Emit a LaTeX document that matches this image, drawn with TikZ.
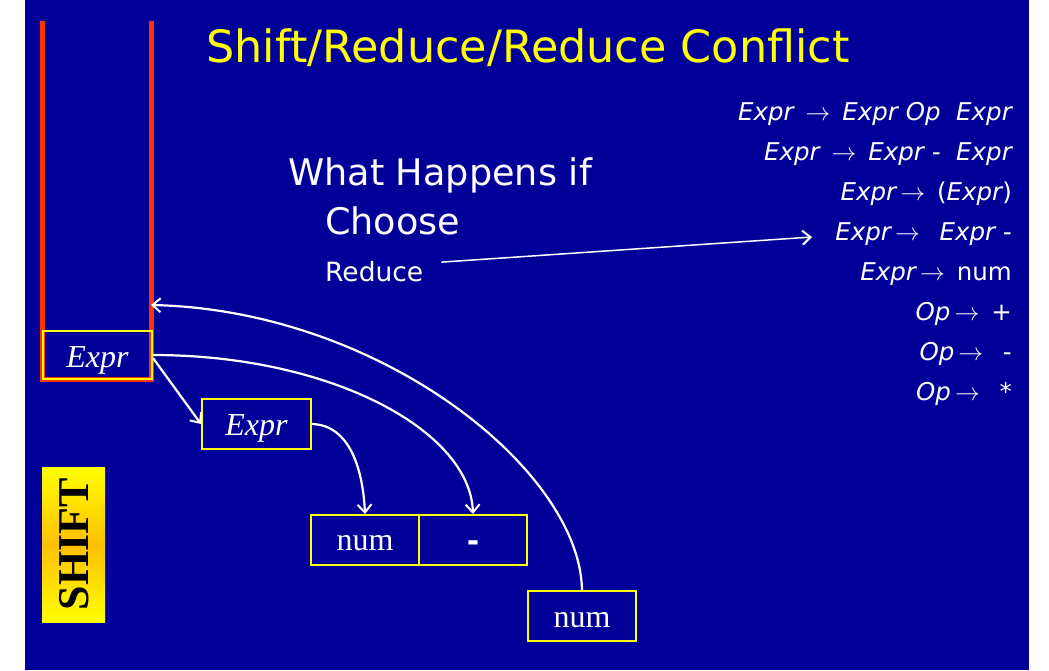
\documentclass[tikz,border=0pt]{standalone}
\usepackage{fontspec}
\setmainfont{DejaVu Sans}
\newfontfamily\timesfont{Liberation Serif}
\usetikzlibrary{arrows.meta}
\definecolor{slideblue}{RGB}{0,0,153}
\definecolor{stackred}{RGB}{255,51,0}
\definecolor{titleyellow}{RGB}{255,255,0}
\definecolor{shiftorange}{RGB}{255,192,0}
\newcommand{\ar}{\,$\rightarrow$\,}
% place a label with its baseline the given distance below the cell centre
\newcommand{\drop}[2]{\raisebox{-#1}[0pt][0pt]{#2}}
\begin{document}
\begin{tikzpicture}[x=1pt,y=-1pt,
  cell/.style={draw=titleyellow,line width=2pt,minimum width=108pt,minimum height=50pt,
    inner sep=0pt,text=white,font=\timesfont\fontsize{32}{32}\selectfont},
  rule/.style={anchor=base east,text=white,inner sep=0pt,font=\fontsize{24.5}{24.5}\selectfont},
  link/.style={draw=white,line width=2.2pt,-{Straight Barb[length=8pt,width=14pt,line width=2pt]}},
  stackwall/.style={draw=stackred,line width=5pt}]
\useasboundingbox (0,0) rectangle (1049,670);
\fill[white] (0,0) rectangle (1049,670);
\fill[slideblue] (25,0) rectangle (1029,670);

% title
\node[anchor=base,text=titleyellow,inner sep=0pt,font=\fontsize{44.5}{44.5}\selectfont] (title) at (528,62) {Shift/Reduce/Reduce Conflict};

% parse stack
\draw[stackwall] (42,21) -- (42,379) -- (151,379) -- (151,21);
\node[cell,minimum width=109pt,minimum height=48pt,anchor=north west] (e1) at (42,330) {\drop{12pt}{\itshape Expr}};
\coordinate (stacktop) at (151,305);

% subtree nodes
\node[cell,minimum width=109pt,anchor=north west] (e2) at (201,398) {\drop{11pt}{\itshape Expr}};
\node[cell,anchor=north west] (n1) at (310,514) {\drop{10.5pt}{num}};
\node[cell,anchor=north west,font=\bfseries\fontsize{30}{30}\selectfont] (m1) at (418,514) {\drop{11.5pt}{-}};
\node[cell,anchor=north west] (n2) at (527,590) {\drop{11pt}{num}};

% SHIFT label
\shade[shading angle=35,top color=titleyellow,bottom color=titleyellow,middle color=shiftorange] (42,467) rectangle (105,622);
\node[rotate=90,inner sep=0pt,font=\timesfont\bfseries\fontsize{44}{44}\selectfont] (shift) at (74,544) {SHIFT};

% question text
\node[anchor=base west,text=white,inner sep=0pt,font=\fontsize{36.6}{36.6}\selectfont] (q1) at (288,185) {What Happens if};
\node[anchor=base west,text=white,inner sep=0pt,font=\fontsize{36.6}{36.6}\selectfont] (q2) at (325,234) {Choose};
\node[anchor=base west,text=white,inner sep=0pt,font=\fontsize{26.5}{26.5}\selectfont] (q3) at (325,281) {Reduce};

% grammar rules
\node[rule] (r1) at (1012,120) {\itshape Expr \ar\ Expr Op\ \ Expr};
\node[rule] (r2) at (1012,160) {\itshape Expr \ar\ Expr -\ \ Expr};
\node[rule] (r3) at (1012,200) {\itshape Expr\ar\ \upshape(\itshape Expr\upshape)};
\node[rule] (r4) at (1012,240) {\itshape Expr\ar\ \ Expr -};
\node[rule] (r5) at (1012,280) {\itshape Expr\ar\ \upshape num};
\node[rule] (r6) at (1012,320) {\itshape Op\ar\ \upshape +};
\node[rule] (r7) at (1012,360) {\itshape Op\ar\ \ \upshape -};
\node[rule] (r8) at (1012,400) {\itshape Op\ar\ \ \upshape *};
\coordinate (ruletarget) at (812,237);

% connectors
\draw[link] (e1.east) ++(0,3) -- (e2.west);
\draw[link] (e2.east) .. controls (350,425) and (363,470) .. (n1.north);
\draw[link] (e1.east) .. controls (330,355) and (470,430) .. (m1.north);
\draw[link] (n2.north) .. controls (580,470) and (380,310) .. (stacktop);
\draw[link,line width=1.5pt] (q3.east) ++(18,-9) -- (ruletarget);
\end{tikzpicture}
\end{document}
